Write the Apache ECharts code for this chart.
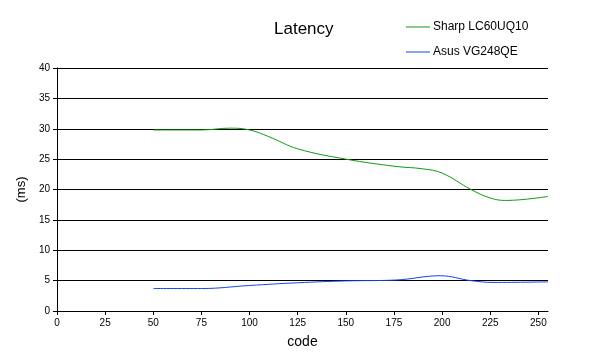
<!DOCTYPE html>
<html>
<head>
<meta charset="utf-8">
<script src="https://cdn.jsdelivr.net/npm/echarts@6/dist/echarts.min.js"></script>
<style>
  html, body { margin: 0; padding: 0; background: #fff; }
  #main { width: 600px; height: 353px; }
</style>
</head>
<body>
<div id="main"></div>
<script>
// code -> ms
var sharpCode = [50, 75, 90, 100, 110, 125, 150, 176, 190, 200, 215, 225, 233, 255];
var sharpMs   = [29.8, 29.8, 30.1, 29.8, 28.7, 26.7, 25.0, 23.8, 23.4, 22.7, 20.0, 18.6, 18.2, 18.85];
var asusCode  = [50, 75, 100, 125, 150, 176, 199, 215, 227, 255];
var asusMs    = [3.7, 3.7, 4.2, 4.65, 4.95, 5.1, 5.8, 5.0, 4.7, 4.8];
var xTicks = { min: 0, max: 255, step: 25 };
var yTicks = { min: 0, max: 40, step: 5 };

function pairs(xs, ys) {
    var out = [];
    for (var i = 0; i < xs.length; i++) out.push([xs[i], ys[i]]);
    return out;
}

var chart = echarts.init(document.getElementById('main'));
var font = 'Arial, "Liberation Sans", sans-serif';
chart.setOption({
    animation: false,
    textStyle: { fontFamily: font },
    title: {
        text: 'Latency', left: 269, top: 16,
        textStyle: { fontSize: 17, fontWeight: 'normal', color: '#000', fontFamily: font }
    },
    legend: {
        orient: 'vertical', left: 401, top: 16, itemGap: 13,
        itemWidth: 24, itemHeight: 1, icon: 'rect',
        textStyle: { fontSize: 12, color: '#000', fontFamily: font, padding: [0, 0, 0, -2] },
        data: ['Sharp LC60UQ10', 'Asus VG248QE']
    },
    grid: { left: 57, right: 52, top: 68, bottom: 42, outerBoundsMode: 'none' },
    xAxis: {
        type: 'value', min: xTicks.min, max: xTicks.max, interval: xTicks.step,
        name: 'code', nameLocation: 'middle', nameGap: 24,
        nameTextStyle: { fontSize: 14, color: '#000' },
        axisLine: { lineStyle: { color: '#000' } },
        axisTick: { show: true, length: 4, lineStyle: { color: '#000' } },
        axisLabel: { fontSize: 10, color: '#000', margin: 7, showMaxLabel: false },
        splitLine: { show: false }
    },
    yAxis: {
        type: 'value', min: yTicks.min, max: yTicks.max, interval: yTicks.step,
        name: '(ms)', nameLocation: 'middle', nameGap: 22, nameRotate: 90,
        nameTextStyle: { fontSize: 13, color: '#000' },
        axisLine: { show: true, lineStyle: { color: '#000' } },
        axisTick: { show: true, length: 4, lineStyle: { color: '#000' } },
        axisLabel: { fontSize: 10, color: '#000', margin: 7 },
        splitLine: { lineStyle: { color: '#000', width: 1 } }
    },
    series: [
        {
            name: 'Sharp LC60UQ10', type: 'line', smooth: 0.4, symbol: 'none',
            data: pairs(sharpCode, sharpMs),
            itemStyle: { color: '#119911' }, lineStyle: { color: '#119911', width: 1 }
        },
        {
            name: 'Asus VG248QE', type: 'line', smooth: 0.4, symbol: 'none',
            data: pairs(asusCode, asusMs),
            itemStyle: { color: '#1144ee' }, lineStyle: { color: '#1144ee', width: 1 }
        }
    ]
});
</script>
</body>
</html>
